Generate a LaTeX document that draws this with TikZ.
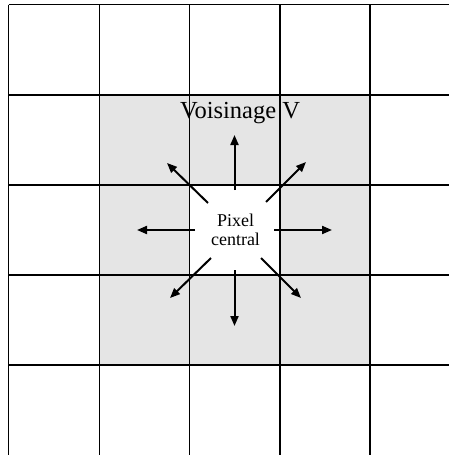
\documentclass[tikz,border=0pt]{standalone}
\usepackage{fontspec}
\setmainfont{Liberation Serif}
\usetikzlibrary{arrows.meta}
\begin{document}
\begin{tikzpicture}[x=1pt,y=-1pt,
  gridline/.style={line width=1.1pt,black},
  ray/.style={line width=2pt,-{Triangle[length=10pt,width=8pt]}}]
\useasboundingbox (0,0) rectangle (449,455);
% grey neighbourhood
\fill[gray!20] (99.3,95) rectangle (370,365);
\fill[white] (189.7,185) rectangle (280,275);
% grid
\foreach \x in {8.7,99.3,189.7,280,370} \draw[gridline] (\x,4.7) -- (\x,455);
\foreach \y in {4.7,95,185,275,365} \draw[gridline] (8.7,\y) -- (449,\y);
% texts
\node[font=\fontsize{24.5}{28}\selectfont, inner sep=0pt] (voisinage) at (240,113) {Voisinage V};
\node[font=\fontsize{18}{19.5}\selectfont, align=center, inner sep=0pt] (pixel) at (235.5,230) {Pixel\\central};
% arrow ends
\coordinate (nS) at (234.5,190); \coordinate (nE) at (234.5,135);
\coordinate (sS) at (234.5,270); \coordinate (sE) at (234.5,326);
\coordinate (wS) at (195,230);   \coordinate (wE) at (137,230);
\coordinate (eS) at (274,230);   \coordinate (eE) at (332,230);
\coordinate (nwS) at (208,203);  \coordinate (nwE) at (167,163);
\coordinate (neS) at (266,202);  \coordinate (neE) at (306,162);
\coordinate (swS) at (211,258);  \coordinate (swE) at (170,298);
\coordinate (seS) at (261,258);  \coordinate (seE) at (301,298);
\foreach \d in {n,s,w,e,nw,ne,sw,se} \draw[ray] (\d S) -- (\d E);
\end{tikzpicture}
\end{document}
